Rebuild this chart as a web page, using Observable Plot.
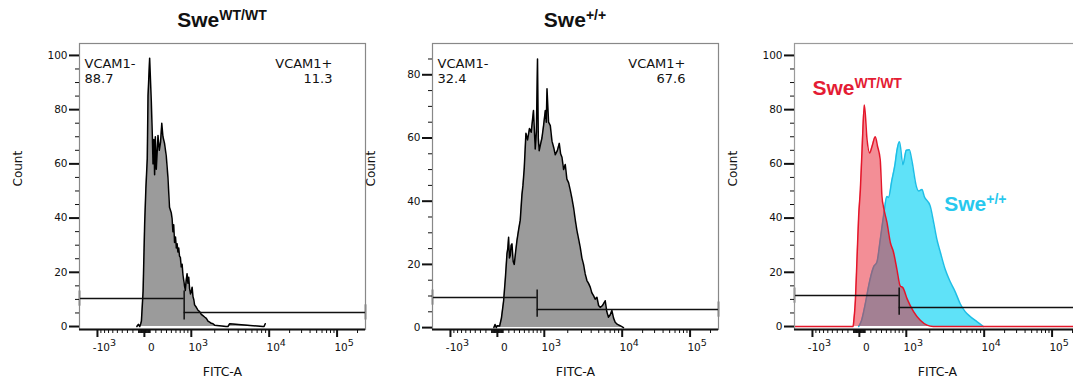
<!DOCTYPE html>
<html><head><meta charset="utf-8">
<script src="https://cdn.jsdelivr.net/npm/d3@7"></script>
<script src="https://cdn.jsdelivr.net/npm/@observablehq/plot@0.6"></script>
<style>
html,body{margin:0;padding:0;background:#fff;overflow:hidden;}
#wrap{position:relative;width:1073px;height:387px;overflow:hidden;}
.panel{position:absolute;top:30px;width:370px;}
.panel svg{max-width:none !important;}
.title{position:absolute;top:9px;width:286px;font-family:"Liberation Sans",Arial,sans-serif;font-weight:bold;font-size:21px;text-align:center;line-height:1;color:#111;}
.title sup{font-size:14px;vertical-align:baseline;position:relative;top:-7px;}
</style></head>
<body><div id="wrap"></div>
<script>
// ---- axis definitions (biexponential FITC axis) ----
const xMin = -1700, xMax = 262144;
const xMajor = [-1000, 0, 1000, 10000, 100000];
const xMajorLabels = ["-10^3", "0", "10^3", "10^4", "10^5"];
const xMinor = [-900,-800,-700,-600,-500,-400,-300,-200,-100,-90,-80,-70,-60,-50,-40,-30,-20,-10,
  10,20,30,40,50,60,70,80,90,100,200,300,400,500,600,700,800,900,
  2000,3000,4000,5000,6000,7000,8000,9000,20000,30000,40000,50000,60000,70000,80000,90000,200000];
const yTicks100 = [0,20,40,60,80,100];
const yTicks80 = [0,20,40,60,80];
const yMinor100 = [5,10,15,25,30,35,45,50,55,65,70,75,85,90,95];
const yMinor80 = [5,10,15,25,30,35,45,50,55,65,70,75,85];

// ---- titles / annotations ----
const titles = ["Swe<sup>WT/WT</sup>", "Swe<sup>+/+</sup>"];
const negLabel = "VCAM1-", posLabel = "VCAM1+";
const pctNeg = ["88.7", "32.4"];
const pctPos = ["11.3", "67.6"];
const overlayLabels = ["Swe^WT/WT", "Swe^+/+"];
const overlayLabelFitc = [-1000, 3066];
const overlayLabelCount = [88, 45.2];

// ---- gates ----
const gateThreshold = 800;
const gateLeftLevel = [10.3, 9.5, 11.4];
const gateRightLevel = [5.2, 5.7, 7.0];

// ---- Swe WT/WT raw histogram (FITC value, count) ----
const wtFitc = [-130,-103,-80,-63,-51,-22,5,26,50,63,91,120,138,150,164,178,191,208,239,262,286,309,331,362,395,429,461,497,515,533,550,569,590,608,627,645,664,683,704,725,747,769,789,809,830,854,878,902,925,949,975,1000,1025,1051,1075,1102,1160,1219,1280,1343,1410,1481,1560,1637,1720,1804,1900,1990,2800,2955,3100,8300,8600,8900];
const wtCount = [0,0.8,0,1,2,13,38,51,62,85,99,83,70.5,60,69,56,70,58,70.5,65,68,75,70,67.5,63,55,44,42,39.8,35,37.5,31,33,29,30.5,27.5,29,26,25.5,22,23,19,17,15,13.3,17,19.5,16,18.2,14,12,13,14.5,11,10,8,7.1,6,5.5,4.5,4,3.5,3,2,1.6,1.2,1,0.5,0,0,1,0,0,1,0];

// ---- Swe +/+ raw histogram ----
const hoFitc = [-60,-40,-20,0,39,70,108,140,167,181,196,210,226,241,257,278,299,325,350,383,415,449,470,497,533,569,612,652,707,750,780,809,830,854,890,931,979,1030,1060,1083,1135,1194,1255,1320,1384,1470,1556,1620,1686,1770,1858,1950,2049,2154,2260,2375,2500,2625,2760,2894,3040,3190,3350,3526,3700,3888,4080,4286,4500,4737,4980,5223,5600,6055,6350,6670,7000,7370,7750,8130,8700,9410,10450];
const hoCount = [0,1,0,0.6,0.5,3,8.5,16,23.4,25,28.6,22,22.8,26,26.5,21,20,24,27.5,31,34,42,45,50.4,61.5,59.4,63,61.8,68.7,56.5,62,85,60,56,58,60,64,68.7,65,75.6,65,63.9,59,57,54.7,56,58.3,55,53.9,50,51.6,47,45.9,43.5,41,38,34,30.7,28,25.4,22,20,17,14.9,14,12.8,11,10.1,9,9.6,7,6.4,7,8.5,5,3.3,4,5.4,3,1.7,1,0.6,0];

// ---- overlay (smoothed) ----
const wtSmoothFitc = [-1700,-300,-108,-98,-68,-39,-12,17,46,86,133,178,221,281,324,375,409,441,511,586,658,743,826,902,1021,1240,1512,1843,2218,262144];
const wtSmoothCount = [0,0,0,1.7,10,26,40.8,50.5,65,81.7,68.9,64,66.4,70,66.4,61.5,48,44,38.5,31,27.5,21,15,14.3,10.3,5.5,2.3,0.5,0,0];
const hoSmoothFitc = [-12,34,74,117,161,250,312,375,441,511,546,621,697,743,809,902,1000,1093,1183,1343,1438,1589,1700,2030,2239,2475,2729,3162,3665,4246,4920,5700,6610,8060,9790];
const hoSmoothCount = [0,2,5.5,10,15,22,23.8,32,40.8,48,47.6,54,60,65,68.2,59.7,65,65.2,61,51.8,50,50.5,48,44.4,38.5,32,27.5,21,16.5,12.8,8.4,5.5,3.7,1.8,0];

// biexponential display transform (linear near zero, log for larger values)
const W = 700, A = 47/78, D2 = 68/78;
function T(v) {
  const s = Math.sign(v), a = Math.abs(v);
  let g;
  if (a <= 1000) g = A * Math.asinh(a / W) / Math.asinh(1000 / W);
  else if (a <= 1e4) g = A + Math.log10(a / 1000);
  else g = A + 1 + D2 * Math.log10(a / 1e4);
  return s * g;
}

const FONT = "DejaVu Sans";
const wrap = document.getElementById("wrap");

function supify(svg) {
  const ns = "http://www.w3.org/2000/svg";
  svg.querySelectorAll("text").forEach(el => {
    const t = el.textContent;
    const k = t.indexOf("^");
    if (k < 0) return;
    const holder = el.closest("[font-size]");
    const big = holder ? parseFloat(holder.getAttribute("font-size")) > 15 : false;
    el.textContent = "";
    const a = document.createElementNS(ns, "tspan"); a.textContent = t.slice(0, k);
    const b = document.createElementNS(ns, "tspan"); b.textContent = t.slice(k + 1);
    b.setAttribute("dy", big ? "-7" : "-5");
    b.setAttribute("font-size", big ? "14" : "9.5");
    el.append(a, b);
  });
}

function makePanel(idx, left, yDomain, yTicks, yMinor, dataMarks, frameStroke, gateH) {
  const gl = gateLeftLevel[idx], gr = gateRightLevel[idx];
  const svg = Plot.plot({
    width: 370, height: 357,
    marginLeft: 79, marginRight: 5, marginTop: 13, marginBottom: 58,
    x: {domain: [T(xMin), T(xMax)]},
    y: {domain: yDomain},
    style: {fontFamily: FONT, fontSize: "10.5px", background: "transparent", overflow: "visible", color: "#111", maxWidth: "none"},
    marks: [
      ...dataMarks,
      // gates
      Plot.ruleY([gl], {x1: T(xMin), x2: T(gateThreshold), stroke: "#111", strokeWidth: 1.5}),
      Plot.ruleY([gr], {x1: T(gateThreshold), x2: T(xMax), stroke: "#111", strokeWidth: 1.5}),
      Plot.ruleX([T(gateThreshold)], {y1: gr - gateH, y2: gl + gateH, stroke: "#111", strokeWidth: 1.5}),
      Plot.ruleX([T(xMin)], {y1: gl - gateH, y2: gl + gateH, stroke: "#111", strokeWidth: 1.5}),
      Plot.ruleX([T(xMax)], {y1: gr - gateH, y2: gr + gateH, stroke: "#111", strokeWidth: 1.5}),
      Plot.frame({stroke: frameStroke, strokeWidth: 1.2}),
      Plot.ruleY([yDomain[0]], {stroke: "#111", strokeWidth: 2}),
      Plot.axisX(xMinor.map(T), {tickSize: 4, tickFormat: () => "", strokeWidth: 1, label: null}),
      Plot.axisX(xMajor.map(T), {tickSize: 8, tickFormat: () => "", strokeWidth: 2, label: null}),
      Plot.text(xMajor, {x: d => T(d), text: (d, i) => xMajorLabels[i], frameAnchor: "bottom", dy: 21, dx: 7, fontSize: 10.5}),
      Plot.axisY(yMinor, {tickSize: 4, tickFormat: () => "", strokeWidth: 1, label: null}),
      Plot.axisY(yTicks, {tickSize: 10, tickPadding: 2, strokeWidth: 2, label: null, fontSize: 10.5}),
      Plot.text(["FITC-A"], {frameAnchor: "bottom", dy: 46, fontSize: 12.5}),
      Plot.text(["Count"], {frameAnchor: "left", dx: -61, rotate: -90, fontSize: 12})
    ]
  });
  supify(svg);
  const div = document.createElement("div");
  div.className = "panel";
  div.style.left = left + "px";
  div.appendChild(svg);
  wrap.appendChild(div);
}

function rawMarks(fitc, count, idx) {
  const data = fitc.map((f, i) => ({x: T(f), y: count[i]}));
  return [
    Plot.areaY(data, {x: "x", y: "y", fill: "#9b9b9b"}),
    Plot.lineY(data, {x: "x", y: "y", stroke: "#000", strokeWidth: 1.5}),
    Plot.text([negLabel + "\n" + pctNeg[idx]], {frameAnchor: "top-left", dx: 5, dy: 14, lineAnchor: "top", textAnchor: "start", fontSize: 13, lineHeight: 1.15}),
    Plot.text([posLabel + "\n" + pctPos[idx]], {frameAnchor: "top-right", dx: -33, dy: 14, lineAnchor: "top", textAnchor: "end", fontSize: 13, lineHeight: 1.15})
  ];
}

// Panel 1: Swe WT/WT
makePanel(0, 0, [-1.1, 104.4], yTicks100, yMinor100, rawMarks(wtFitc, wtCount, 0), "#888", 2.8);
// Panel 2: Swe +/+
makePanel(1, 353, [-0.6, 89.9], yTicks80, yMinor80, rawMarks(hoFitc, hoCount, 1), "#888", 2.4);
// Panel 3: overlay
const wtS = wtSmoothFitc.map((f, i) => ({x: T(f), y: wtSmoothCount[i]}));
const hoS = hoSmoothFitc.map((f, i) => ({x: T(f), y: hoSmoothCount[i]}));
const overlayColors = ["rgb(228,28,52)", "rgb(40,200,238)"];
makePanel(2, 715, [-1.1, 104.4], yTicks100, yMinor100, [
  Plot.areaY(hoS, {x: "x", y: "y", fill: "rgb(95,226,248)", curve: "monotone-x"}),
  Plot.lineY(hoS, {x: "x", y: "y", stroke: "rgb(30,190,230)", strokeWidth: 1.5, curve: "monotone-x"}),
  Plot.areaY(wtS, {x: "x", y: "y", fill: "rgb(232,30,45)", fillOpacity: 0.5, curve: "monotone-x"}),
  Plot.lineY(wtS, {x: "x", y: "y", stroke: "rgb(228,22,42)", strokeWidth: 1.5, curve: "monotone-x"}),
  Plot.text(overlayLabels, {x: (d, i) => T(overlayLabelFitc[i]), y: (d, i) => overlayLabelCount[i], text: d => d,
    fill: (d, i) => overlayColors[i], textAnchor: "start", fontSize: 21, fontWeight: "bold", fontFamily: "Liberation Sans"})
], "#9a9a9a", 2.8);

// titles
[[79, 0], [432, 1]].forEach(([l, i]) => {
  const t = document.createElement("div");
  t.className = "title";
  t.style.left = l + "px";
  t.innerHTML = titles[i];
  wrap.appendChild(t);
});
</script></body></html>
